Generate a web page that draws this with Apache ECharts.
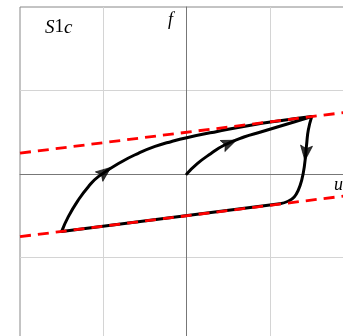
<!DOCTYPE html>
<html>
<head>
<meta charset="utf-8">
<script src="https://cdn.jsdelivr.net/npm/echarts@6/dist/echarts.min.js"></script>
<style>
  html, body { margin: 0; padding: 0; background: #fff; overflow: hidden; }
  #chart { width: 360px; height: 350px; }
</style>
</head>
<body>
<div id="chart"></div>
<script>
// Initial loading branch (from the origin)
const virginU = [0, 0.127, 0.288, 0.448, 0.687, 0.888, 1.087, 1.287, 1.5];
const virginF = [0, 0.124, 0.243, 0.344, 0.443, 0.503, 0.563, 0.623, 0.6875];

// Unloading branch (from the peak back to the negative end)
const unloadU = [1.5, 1.459, 1.44, 1.411, 1.38, 1.339, 1.29, 1.22, 1.12, -1.5];
const unloadF = [0.6875, 0.527, 0.368, 0.087, -0.072, -0.192, -0.275, -0.325, -0.355, -0.6875];

// Reloading branch (from the negative end up to the peak)
const reloadU = [-1.5, -1.42, -1.30, -1.18, -1.06, -0.78, -0.58, -0.38, -0.18, 0, 0.367, 0.768, 1.12, 1.5];
const reloadF = [-0.6875, -0.511, -0.311, -0.152, -0.032, 0.147, 0.248, 0.33, 0.39, 0.435, 0.51, 0.585, 0.638, 0.6875];

// Asymptotic bounds f = u/8 ± 1/2
const boundU = [-2, 2];
const upperF = [0.25, 0.75];
const lowerF = [-0.75, -0.25];

// Direction arrows: position on the loop and heading (degrees, CCW from up)
const arrowU = [-0.98, 0.513, 1.428];
const arrowF = [0.024, 0.37, 0.25];
const arrowRot = [-52, -67, 174];

const pairs = (xs, ys) => xs.map((x, i) => [x, ys[i]]);

const chart = echarts.init(document.getElementById('chart'), null, { renderer: 'canvas' });

const curveStyle = { color: '#000', width: 3, cap: 'round', join: 'round' };
const boundStyle = { color: '#ff0000', width: 2.8, type: [11, 7] };

chart.setOption({
  animation: false,
  backgroundColor: '#fff',
  grid: {
    left: 20, top: 7, width: 333.4, height: 334,
    show: true, borderColor: '#888', borderWidth: 1, backgroundColor: 'transparent'
  },
  xAxis: {
    type: 'value', min: -2, max: 2, interval: 1,
    axisLine: { show: true, onZero: true, lineStyle: { color: '#777', width: 1 } },
    axisTick: { show: false },
    axisLabel: { show: false },
    splitLine: { show: true, showMinLine: false, showMaxLine: false, lineStyle: { color: '#d4d4d4', width: 1 } }
  },
  yAxis: {
    type: 'value', min: -2, max: 2, interval: 1,
    axisLine: { show: true, onZero: true, lineStyle: { color: '#777', width: 1 } },
    axisTick: { show: false },
    axisLabel: { show: false },
    splitLine: { show: true, showMinLine: false, showMaxLine: false, lineStyle: { color: '#d4d4d4', width: 1 } }
  },
  series: [
    { type: 'line', data: pairs(virginU, virginF), smooth: 0.5, showSymbol: false, lineStyle: curveStyle, z: 3 },
    { type: 'line', data: pairs(unloadU, unloadF), smooth: 0.5, showSymbol: false, lineStyle: curveStyle, z: 3 },
    { type: 'line', data: pairs(reloadU, reloadF), smooth: 0.5, showSymbol: false, lineStyle: curveStyle, z: 3 },
    { type: 'line', data: pairs(boundU, upperF), showSymbol: false, lineStyle: boundStyle, z: 4 },
    { type: 'line', data: pairs(boundU, lowerF), showSymbol: false, lineStyle: boundStyle, z: 4 },
    {
      type: 'scatter',
      data: arrowU.map((u, i) => ({ value: [u, arrowF[i]], symbolRotate: arrowRot[i] })),
      symbol: 'path://M0,0 L6,15 L0,12 L-6,15 Z',
      symbolSize: [12, 15],
      itemStyle: { color: '#000', borderColor: '#000', borderWidth: 0.8 },
      z: 5
    }
  ],
  graphic: [
    {
      type: 'text', left: 45, top: 18,
      style: {
        text: '{i|S}{r|1}{i|c}',
        rich: {
          i: { fontFamily: 'Liberation Serif', fontStyle: 'italic', fontSize: 19, fill: '#000' },
          r: { fontFamily: 'Liberation Serif', fontSize: 19, fill: '#000' }
        }
      }
    },
    {
      type: 'text', left: 168, top: 11,
      style: { text: 'f', fontFamily: 'Liberation Serif', fontStyle: 'italic', fontSize: 18, fill: '#000' }
    },
    {
      type: 'text', left: 334, top: 176,
      style: { text: 'u', fontFamily: 'Liberation Serif', fontStyle: 'italic', fontSize: 18, fill: '#000' }
    }
  ]
});
</script>
</body>
</html>
